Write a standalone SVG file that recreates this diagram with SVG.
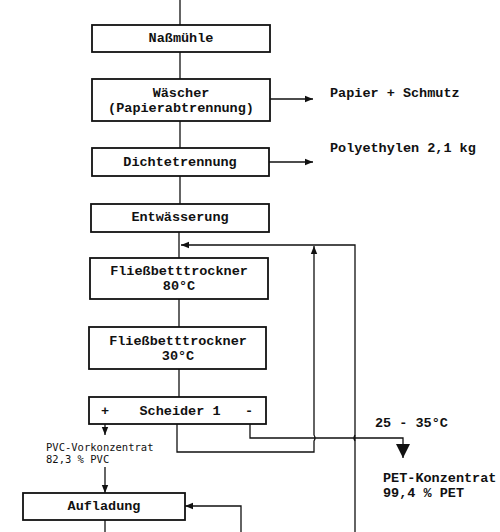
<svg xmlns="http://www.w3.org/2000/svg" width="500" height="532" viewBox="0 0 500 532">
<style>
.box{fill:#fff;stroke:#111;stroke-width:1.8}
.t{font-family:"Liberation Mono","Courier New",monospace;font-weight:bold;font-size:13.5px;fill:#111}
.c{text-anchor:middle}
.s{font-family:"DejaVu Sans Mono","Liberation Mono",monospace;font-size:10.5px;fill:#111}
.ln{fill:none;stroke:#111;stroke-width:1.3}
</style>
<defs>
<marker id="a" viewBox="0 0 10 10" refX="10" refY="5" markerWidth="8" markerHeight="8" markerUnits="userSpaceOnUse" orient="auto">
<path d="M0,1 L10,5 L0,9 Z" fill="#111"/>
</marker>
<marker id="b" viewBox="0 0 10 10" refX="10" refY="5" markerWidth="14" markerHeight="14" markerUnits="userSpaceOnUse" orient="auto">
<path d="M0,0 L10,5 L0,10 Z" fill="#111"/>
</marker>
</defs>
<g id="connectors">
<path class="ln" d="M180,0 V25"/>
<path class="ln" d="M180,52 V79"/>
<path class="ln" d="M180,121 V148"/>
<path class="ln" d="M180,176 V204"/>
<path class="ln" d="M179,232 V258"/>
<path class="ln" d="M179,299 V327"/>
<path class="ln" d="M179,369 V397"/>
<path class="ln" d="M270,99 H313" marker-end="url(#a)"/>
<path class="ln" d="M269,162 H313" marker-end="url(#a)"/>
<path class="ln" d="M355,532 V245 H181" marker-end="url(#a)"/>
<path class="ln" d="M177,424 V452 H314 V441 q2,-3 0,-6 V246" marker-end="url(#a)"/>
<path class="ln" d="M250,424 V438 H403 V458" marker-end="url(#b)"/>
<path class="ln" d="M355,441 q-2,-3 0,-6"/>
<path class="ln" d="M105,424 V435" marker-end="url(#a)"/>
<path class="ln" d="M105,467 V493" marker-end="url(#a)"/>
<path class="ln" d="M241,532 V506 H185" marker-end="url(#a)"/>
<path class="ln" d="M105,520 V532"/>
</g>
<g id="nassmuehle"><rect class="box" x="92" y="25" width="178" height="27"/><text class="t c" x="181" y="42">Naßmühle</text></g>
<g id="waescher"><rect class="box" x="92" y="79" width="178" height="42"/><text class="t c" x="181" y="97">Wäscher</text><text class="t c" x="181" y="112">(Papierabtrennung)</text></g>
<g id="papier"><text class="t" x="330" y="97">Papier + Schmutz</text></g>
<g id="dichtetrennung"><rect class="box" x="92" y="148" width="177" height="28"/><text class="t c" x="180" y="166">Dichtetrennung</text></g>
<g id="polyethylen"><text class="t" x="330" y="152">Polyethylen 2,1 kg</text></g>
<g id="entwaesserung"><rect class="box" x="91" y="204" width="178" height="28"/><text class="t c" x="180" y="221">Entwässerung</text></g>
<g id="trockner80"><rect class="box" x="90" y="258" width="178" height="41"/><text class="t c" x="179" y="275">Fließbetttrockner</text><text class="t c" x="179" y="290">80°C</text></g>
<g id="trockner30"><rect class="box" x="89" y="327" width="177" height="42"/><text class="t c" x="178" y="345">Fließbetttrockner</text><text class="t c" x="178" y="360">30°C</text></g>
<g id="scheider1"><rect class="box" x="89" y="397" width="177" height="27"/><text class="t" x="101" y="415">+</text><text class="t c" x="180" y="415">Scheider 1</text><text class="t" x="245" y="415">-</text></g>
<g id="temp"><text class="t" x="375" y="427">25 - 35°C</text></g>
<g id="pvc"><text class="s" x="46" y="451">PVC-Vorkonzentrat</text><text class="s" x="46" y="463">82,3 % PVC</text></g>
<g id="pet"><text class="t" x="383" y="482">PET-Konzentrat</text><text class="t" x="383" y="497">99,4 % PET</text></g>
<g id="aufladung"><rect class="box" x="23" y="493" width="162" height="27"/><text class="t c" x="104" y="510">Aufladung</text></g>
</svg>
